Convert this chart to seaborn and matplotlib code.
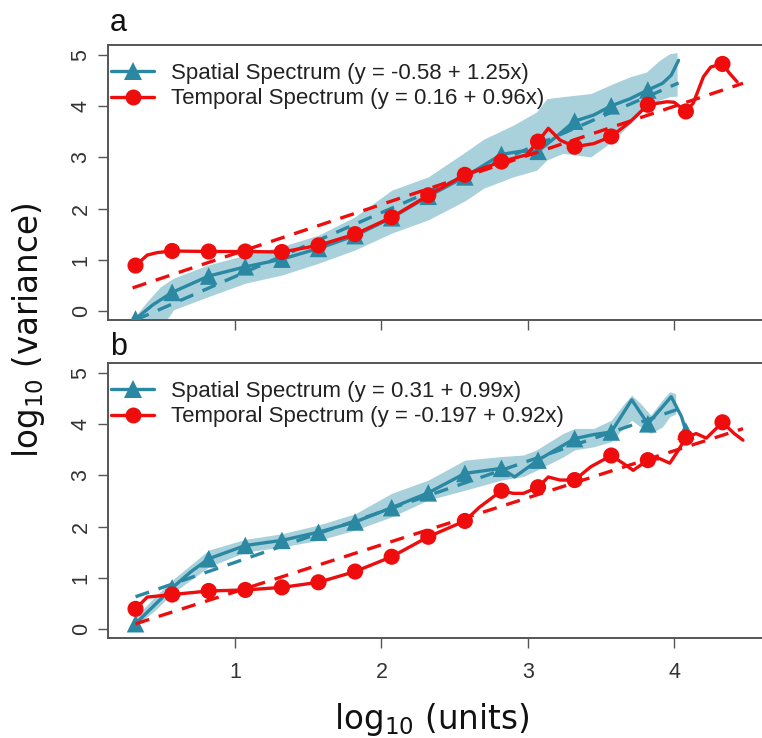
import numpy as np
import pandas as pd
import matplotlib
matplotlib.use("Agg")
import matplotlib.pyplot as plt
import seaborn as sns
from matplotlib.lines import Line2D

# ---------------- data ----------------
mark_x = [0.32, 0.57, 0.82, 1.07, 1.32, 1.57, 1.82, 2.07, 2.32, 2.57,
          2.82, 3.07, 3.32, 3.57, 3.82, 4.08, 4.33]

# panel a
a_red_mark_y = [0.885, 1.17, 1.16, 1.16, 1.15, 1.28, 1.50, 1.83, 2.26, 2.66,
                2.92, 3.31, 3.21, 3.41, 4.03, 3.90, 4.83]
a_red_mid_x = [0.40, 0.47, 2.99, 3.14, 3.22, 3.45, 3.70, 3.95, 4.00, 4.13, 4.20, 4.25, 4.38, 4.43]
a_red_mid_y = [1.09, 1.14, 3.05, 3.57, 3.34, 3.27, 3.70, 4.09, 4.08, 4.06, 4.58, 4.77, 4.64, 4.48]

a_spa_mark_y = [-0.16, 0.36, 0.68, 0.86, 1.01, 1.22, 1.47, 1.82, 2.24, 2.62,
                3.06, 3.12, 3.71, 4.01, 4.32]
a_spa_mid_x = [0.44, 2.95, 3.20, 3.45, 3.70, 3.92, 3.98, 4.03]
a_spa_mid_y = [0.12, 3.12, 3.42, 3.83, 4.15, 4.45, 4.61, 4.90]

a_band_x = [0.30, 0.39, 0.49, 0.58, 0.82, 1.07, 1.32, 1.57, 1.82, 2.07, 2.32, 2.57,
            2.70, 2.90, 3.06, 3.13, 3.24, 3.43, 3.59, 3.70, 3.81, 3.90, 3.97, 4.02]
a_band_hi = [-0.18, 0.15, 0.47, 0.64, 0.90, 1.09, 1.26, 1.48, 1.84, 2.36, 2.62, 3.10,
             3.36, 3.63, 3.89, 4.15, 4.19, 4.25, 4.45, 4.58, 4.67, 4.90, 5.03, 5.05]
a_band_lo = [-0.60, -0.50, -0.35, 0.02, 0.28, 0.54, 0.70, 0.93, 1.19, 1.52, 1.78, 2.15,
             2.40, 2.62, 2.75, 2.95, 3.08, 3.01, 3.34, 3.67, 3.99, 4.12, 4.19, 4.20]

# panel b
b_red_mark_y = [0.39, 0.67, 0.74, 0.76, 0.81, 0.91, 1.12, 1.41, 1.80, 2.11,
                2.70, 2.77, 2.91, 3.39, 3.30, 3.74, 4.04]
b_red_mid_x = [0.40, 2.67, 2.90, 2.97, 3.14, 3.22, 3.43, 3.65, 3.72, 3.90, 3.97,
               4.03, 4.15, 4.22, 4.41, 4.47]
b_red_mid_y = [0.62, 2.38, 2.65, 2.65, 2.97, 2.91, 3.17, 3.24, 3.10, 3.33, 3.24,
               3.50, 3.82, 3.73, 3.82, 3.69]

b_spa_mark_y = [0.10, 0.80, 1.37, 1.63, 1.73, 1.89, 2.09, 2.37, 2.66, 3.04,
                3.14, 3.30, 3.72, 3.85, 4.01, 3.87]
b_spa_mid_x = [0.70, 2.91, 3.20, 3.45, 3.71, 3.98, 4.05]
b_spa_mid_y = [1.12, 2.97, 3.52, 3.80, 4.48, 4.54, 4.15]

b_band_x = [0.30, 0.45, 0.57, 0.82, 1.07, 1.32, 1.57, 1.82, 2.07, 2.32, 2.57, 2.82,
            2.97, 3.06, 3.24, 3.32, 3.45, 3.57, 3.66, 3.71, 3.77, 3.84, 3.92, 3.97, 4.01]
b_band_hi = [0.18, 0.62, 0.95, 1.54, 1.75, 1.86, 2.03, 2.25, 2.65, 2.91, 3.30, 3.37,
             3.40, 3.50, 3.82, 3.92, 3.92, 4.08, 4.41, 4.57, 4.41, 4.18, 4.48, 4.64, 4.60]
b_band_lo = [0.02, 0.35, 0.69, 1.21, 1.50, 1.60, 1.73, 1.93, 2.19, 2.52, 2.71, 2.91,
             2.98, 3.10, 3.36, 3.50, 3.56, 3.66, 3.95, 4.08, 3.95, 3.82, 3.95, 4.15, 4.20]

# regression fits: (intercept, slope, x start, x end)
a_spa_fit = (-0.58, 1.25, 0.32, 4.03)
a_red_fit = (0.16, 0.96, 0.30, 4.47)
b_spa_fit = (0.31, 0.99, 0.32, 4.08)
b_red_fit = (-0.197, 0.92, 0.32, 4.47)

a_labels = ["Spatial Spectrum (y = -0.58 + 1.25x)", "Temporal Spectrum (y = 0.16 + 0.96x)"]
b_labels = ["Spatial Spectrum (y = 0.31 + 0.99x)", "Temporal Spectrum (y = -0.197 + 0.92x)"]

x_ticks = [1, 2, 3, 4]
y_ticks = [0, 1, 2, 3, 4, 5]

# ---------------- style ----------------
TEAL = "#2b88a3"
BAND = "#a8d1dc"
RED = "#ee0c0c"
LW = 2.4
DASH = (0, (4.3, 3.0))

sns.set_theme(style="white")
plt.rcParams["font.family"] = ["Liberation Sans", "DejaVu Sans"]

W, H = 762, 738
fig = plt.figure(figsize=(W / 100, H / 100), dpi=100)
fig.patch.set_facecolor("white")

left = 108.3 / W
width = (762 - 108.3) / W
ax_a = fig.add_axes([left, 1 - 320 / H, width, 275 / H])
ax_b = fig.add_axes([left, 1 - 638 / H, width, 275 / H])


def series_df(mx, my, ix, iy):
    n = len(my)
    df = pd.DataFrame({"x": list(mx[:n]) + list(ix), "y": list(my) + list(iy)})
    return df.sort_values("x").reset_index(drop=True)


def draw(ax, band, spa, red, spa_fit, red_fit, labels, show_xlabels):
    bx, blo, bhi = band
    ax.fill_between(bx, blo, bhi, color=BAND, lw=0, zorder=1)

    # spatial
    sdf = series_df(mark_x, *spa)
    sns.lineplot(data=sdf, x="x", y="y", ax=ax, color=TEAL, lw=LW,
                 estimator=None, sort=True, zorder=3)
    n = len(spa[0])
    sns.scatterplot(x=mark_x[:n], y=spa[0], ax=ax, marker="^", s=160,
                    color=TEAL, edgecolor="none", zorder=4)
    a, b, x0, x1 = spa_fit
    fx = np.array([x0, x1])
    sns.lineplot(x=fx, y=a + b * fx, ax=ax, color=TEAL, lw=LW,
                 linestyle=DASH, zorder=5)

    # temporal
    rdf = series_df(mark_x, *red)
    sns.lineplot(data=rdf, x="x", y="y", ax=ax, color=RED, lw=LW,
                 estimator=None, sort=True, zorder=6)
    n = len(red[0])
    sns.scatterplot(x=mark_x[:n], y=red[0], ax=ax, marker="o", s=135,
                    color=RED, edgecolor="none", zorder=7)
    a, b, x0, x1 = red_fit
    fx = np.array([x0, x1])
    sns.lineplot(x=fx, y=a + b * fx, ax=ax, color=RED, lw=LW,
                 linestyle=DASH, zorder=8)

    ax.set_xlim(0.134, 4.60)
    ax.set_ylim(-0.18, 5.2)
    ax.set_xticks(x_ticks)
    ax.set_yticks(y_ticks)
    ax.set_xlabel("")
    ax.set_ylabel("")
    ax.tick_params(axis="both", direction="out", length=7, width=1.0,
                   color="#555555", labelcolor="#333333", labelsize=15.5,
                   left=True, bottom=True)
    ax.tick_params(axis="x", pad=10)
    ax.tick_params(axis="y", pad=5)
    for lab in ax.get_yticklabels():
        lab.set_rotation(90)
        lab.set_va("center")
    if not show_xlabels:
        ax.set_xticklabels([])
    for name, sp in ax.spines.items():
        sp.set_color("#555555")
        sp.set_linewidth(1.4)
    ax.spines["right"].set_visible(False)

    handles = [
        Line2D([], [], color=TEAL, lw=LW, marker="^", markersize=12.5, markeredgewidth=0),
        Line2D([], [], color=RED, lw=LW, marker="o", markersize=11.5, markeredgewidth=0),
    ]
    ax.legend(handles, labels, loc="upper left", bbox_to_anchor=(0.004, 0.935),
              frameon=False, fontsize=16, handlelength=1.95, handletextpad=0.75,
              labelspacing=0.2, borderaxespad=0, borderpad=0)
    for t in ax.get_legend().get_texts():
        t.set_color("#222222")


draw(ax_a, (a_band_x, a_band_lo, a_band_hi),
     (a_spa_mark_y, a_spa_mid_x, a_spa_mid_y),
     (a_red_mark_y, a_red_mid_x, a_red_mid_y),
     a_spa_fit, a_red_fit, a_labels, False)
draw(ax_b, (b_band_x, b_band_lo, b_band_hi),
     (b_spa_mark_y, b_spa_mid_x, b_spa_mid_y),
     (b_red_mark_y, b_red_mid_x, b_red_mid_y),
     b_spa_fit, b_red_fit, b_labels, True)

fig.text(110 / W, 1 - 31 / H, "a", fontsize=22, ha="left", va="baseline", color="#111111")
fig.text(110 / W, 1 - 355 / H, "b", fontsize=22, ha="left", va="baseline", color="#111111")

fig.text(29 / W, 1 - 330 / H, r"$\mathregular{log_{10}}$ (variance)", rotation=90,
         ha="center", va="center", fontsize=23.5, family=["DejaVu Sans"], color="#111111")
fig.text(432 / W, 1 - 720 / H, r"$\mathregular{log_{10}}$ (units)",
         ha="center", va="center", fontsize=23.5, family=["DejaVu Sans"], color="#111111")

fig.savefig("out.png", dpi=100, facecolor="white")
